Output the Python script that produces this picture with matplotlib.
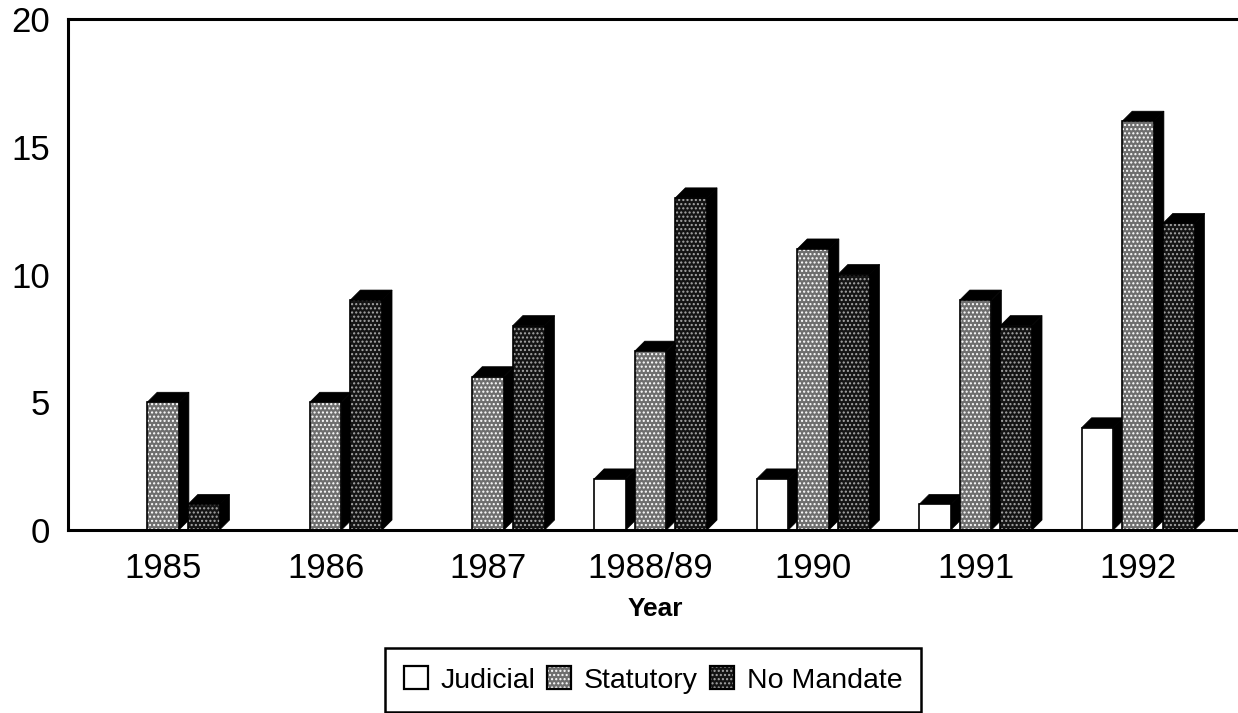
import numpy as np
import matplotlib.pyplot as plt
from matplotlib.patches import Patch
from matplotlib.legend_handler import HandlerTuple

plt.rcParams['font.family'] = ['Liberation Sans', 'DejaVu Sans']
plt.rcParams['hatch.linewidth'] = 1.0

# Datos
anios = ['1985', '1986', '1987', '1988/89', '1990', '1991', '1992']
judicial = [0, 0, 0, 2, 2, 1, 4]
statutory = [5, 5, 6, 7, 11, 9, 16]
no_mandate = [1, 9, 8, 13, 10, 8, 12]
etiquetas = ['Judicial', 'Statutory', 'No Mandate']

fig = plt.figure(figsize=(12.38, 7.13), dpi=100)
ax = fig.add_axes([68 / 1238, 1 - 530 / 713, 1170 / 1238, 511 / 713])
ax.set_xlim(-0.585, 6.615)
ax.set_ylim(0, 20)

# Profundidad del efecto 3D en unidades de datos
ancho = 0.195
paso = 0.25
dx = 10 / 162.5
dy = 10 / 25.55

estilos = [
    dict(facecolor='white', hatch=None),
    dict(facecolor='#6e6e6e', hatch='....', edgecolor='#ffffff'),
    dict(facecolor='#141414', hatch='....', edgecolor='#a8a8a8'),
]


def barra_3d(x, valor, estilo):
    if valor == 0:
        return
    izq = x - ancho / 2
    der = x + ancho / 2
    # cara superior y lateral en negro
    ax.fill([izq, izq + dx, der + dx, der], [valor, valor + dy, valor + dy, valor],
            color='black', lw=0.5, zorder=3, clip_on=False)
    ax.fill([der, der + dx, der + dx, der], [0, dy, valor + dy, valor],
            color='black', lw=0.5, zorder=3, clip_on=False)
    ax.bar(x, valor, width=ancho, linewidth=0, zorder=3, **estilo)
    ax.bar(x, valor, width=ancho, facecolor='none', edgecolor='black', linewidth=1.2, zorder=4)


for i in range(len(anios)):
    for j, serie in enumerate([judicial, statutory, no_mandate]):
        barra_3d(i + (j - 1) * paso, serie[i], estilos[j])

for lado in ['left', 'top', 'bottom']:
    ax.spines[lado].set_linewidth(2.2)
ax.spines['right'].set_visible(False)
ax.spines['bottom'].set_zorder(5)

ax.set_xticks(range(len(anios)))
ax.set_xticklabels(anios)
ax.set_yticks([0, 5, 10, 15, 20])
ax.tick_params(axis='both', length=0, labelsize=25)
ax.tick_params(axis='x', pad=16)
ax.tick_params(axis='y', pad=13)
ax.set_xlabel('Year', fontsize=19, fontweight='bold')
ax.xaxis.set_label_coords((655 - 68) / 1170, -(597 - 530) / 511)

contorno = Patch(facecolor='none', edgecolor='black', linewidth=1.6)
manijas = [
    (Patch(**estilos[0], linewidth=0), contorno),
    (Patch(**estilos[1], linewidth=0), contorno),
    (Patch(**estilos[2], linewidth=0), contorno),
]
ley = fig.legend(manijas, etiquetas, ncol=3, loc='center', bbox_to_anchor=(653 / 1238, 1 - 680 / 713),
                 handler_map={tuple: HandlerTuple(ndivide=1, pad=0)},
                 fontsize=20.5, frameon=True, fancybox=False, edgecolor='black', framealpha=1,
                 handlelength=0.85, handleheight=0.85, handletextpad=0.45, columnspacing=0.4,
                 borderpad=0.65, borderaxespad=0)
ley.get_frame().set_linewidth(1.8)

plt.savefig('out.png', dpi=100)
plt.close()
